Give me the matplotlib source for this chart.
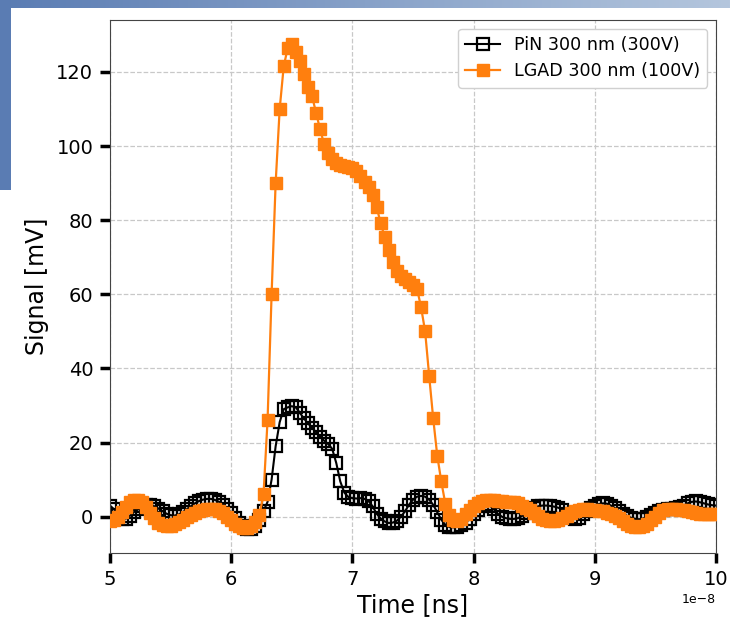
import matplotlib
matplotlib.use("Agg")
import matplotlib.pyplot as plt
import numpy as np
from matplotlib.colors import LinearSegmentedColormap
from matplotlib.patches import Rectangle

# sampling grid of the scope traces, in axis units of 1e-8 s (1/30 step)
t_start = 5.0
t_step = 1.0 / 30.0

# PiN 300 nm (300V), mV
pin_mv = [
    3.0, 2.0, 0.5, -0.5, -0.5, 0.3, 1.3, 2.0, 2.8, 3.2,
    3.2, 2.8, 2.2, 1.5, 0.8, 0.4, 0.3, 0.6, 1.2, 2.0,
    2.8, 3.6, 4.2, 4.6, 4.8, 4.8, 4.5, 4.0, 3.2, 2.2,
    1.0, -0.3, -1.6, -2.6, -3.2, -3.3, -2.6, -0.8, 1.5, 4.0,
    10.0, 19.0, 25.5, 29.0, 29.5, 29.8, 29.5, 28.0, 26.5, 25.2,
    24.0, 22.8, 21.6, 20.5, 19.6, 18.3, 14.5, 9.5, 6.5, 5.3,
    5.0, 4.9, 5.0, 4.8, 4.2, 2.8, 0.8, -0.5, -1.3, -1.7,
    -1.6, -1.1, 0.0, 1.4, 3.2, 4.6, 5.4, 5.6, 5.4, 4.6,
    3.2, 1.2, -0.8, -2.2, -2.8, -2.9, -2.7, -2.3, -1.6, -0.6,
    0.6, 1.8, 2.8, 3.3, 3.0, 2.0, 0.8, 0.0, -0.4, -0.6,
    -0.6, -0.4, 0.2, 1.0, 1.8, 2.4, 2.8, 3.0, 3.0, 2.9,
    2.7, 2.4, 1.8, 0.8, -0.2, -0.6, -0.3, 0.6, 1.6, 2.4,
    3.0, 3.4, 3.6, 3.5, 3.0, 2.3, 1.5, 0.8, 0.2, -0.3,
    -0.6, -0.7, -0.5, 0.0, 0.5, 1.0, 1.4, 1.7, 2.0, 2.2,
    2.3, 2.6, 3.0, 3.6, 4.0, 4.1, 3.9, 3.6, 3.3, 3.1,
    3.0,
]

# LGAD 300 nm (100V), mV
lgad_mv = [
    -1.2, -0.8, 0.0, 1.2, 2.6, 3.9, 4.6, 4.6, 3.9, 2.6,
    1.0, -0.4, -1.6, -2.3, -2.6, -2.5, -2.1, -1.5, -0.8, -0.2,
    0.4, 0.9, 1.4, 1.8, 2.0, 2.1, 2.0, 1.6, 0.9, 0.0,
    -1.0, -1.9, -2.6, -3.0, -3.0, -2.5, -1.5, 0.5, 6.0, 26.0,
    60.0, 90.0, 110.0, 121.5, 126.5, 127.5, 125.5, 123.0, 119.5, 116.0,
    113.5, 109.0, 104.5, 100.5, 98.2, 96.6, 95.5, 94.9, 94.6, 94.3,
    94.0, 93.2, 91.8, 90.4, 88.9, 86.8, 83.5, 79.2, 75.4, 72.0,
    68.8, 66.4, 64.9, 64.0, 63.3, 62.5, 61.5, 56.5, 50.0, 38.0,
    26.5, 16.5, 9.5, 3.5, 0.5, -0.8, -1.2, -0.6, 0.6, 1.8,
    2.8, 3.6, 4.2, 4.5, 4.6, 4.5, 4.3, 4.1, 4.0, 4.0,
    3.9, 3.6, 3.0, 2.4, 1.8, 1.0, 0.2, -0.5, -1.0, -1.3,
    -1.3, -1.0, -0.4, 0.3, 1.0, 1.6, 1.9, 2.0, 2.0, 1.9,
    1.8, 1.6, 1.4, 1.1, 0.8, 0.3, -0.4, -1.2, -2.0, -2.6,
    -2.9, -2.9, -2.6, -2.0, -1.0, 0.0, 1.0, 1.7, 2.0, 2.1,
    2.0, 1.9, 1.8, 1.5, 1.2, 0.9, 0.7, 0.6, 0.6, 0.6,
    0.7,
]

labels = ["PiN 300 nm (300V)", "LGAD 300 nm (100V)"]


def add_slide_frame(fig):
    # blue slide decoration behind the pasted plot
    cmap = LinearSegmentedColormap.from_list("slide", ["#5a7cb3", "#b4c6dd"])
    band = fig.add_axes([0, 1 - 8 / 624, 1, 8 / 624])
    band.imshow(np.linspace(0, 1, 256)[None, :], aspect="auto", cmap=cmap)
    band.axis("off")
    fig.add_artist(Rectangle((0, 1 - 190 / 624), 11 / 730, 190 / 624,
                             transform=fig.transFigure, color="#5a7cb3", lw=0))


def main():
    time_s = (t_start + t_step * np.arange(len(pin_mv))) * 1e-8

    fig = plt.figure(figsize=(7.3, 6.24), dpi=100)
    add_slide_frame(fig)
    ax = fig.add_axes([110 / 730, 1 - 553 / 624, 606 / 730, 533 / 624])

    ax.plot(time_s, pin_mv, color="black", lw=1.5, marker="s", ms=8,
            mfc="none", mec="black", mew=1.6, label=labels[0], zorder=2)
    ax.plot(time_s, lgad_mv, color="#ff7f0e", lw=1.6, marker="s", ms=8.5,
            mfc="#ff7f0e", mec="#ff7f0e", label=labels[1], zorder=3)

    ax.set_xlim(5e-8, 10e-8)
    ax.set_ylim(-9.8, 134)
    ax.set_yticks([0, 20, 40, 60, 80, 100, 120])
    ax.set_xlabel("Time [ns]", fontsize=17, labelpad=3)
    ax.set_ylabel("Signal [mV]", fontsize=17, labelpad=5)
    ax.tick_params(axis="both", which="major", labelsize=14, length=7,
                   width=2.5, direction="out", pad=5)
    ax.xaxis.get_offset_text().set_fontsize(9)
    ax.grid(True, ls="--", color="#c8c8c8", lw=0.9)
    for spine in ax.spines.values():
        spine.set_color("#444444")
    ax.legend(loc="upper right", fontsize=12.6, framealpha=1,
              edgecolor="#d0d0d0", handlelength=2.0)

    fig.savefig("out.png", dpi=100)
    plt.close(fig)


if __name__ == "__main__":
    main()
